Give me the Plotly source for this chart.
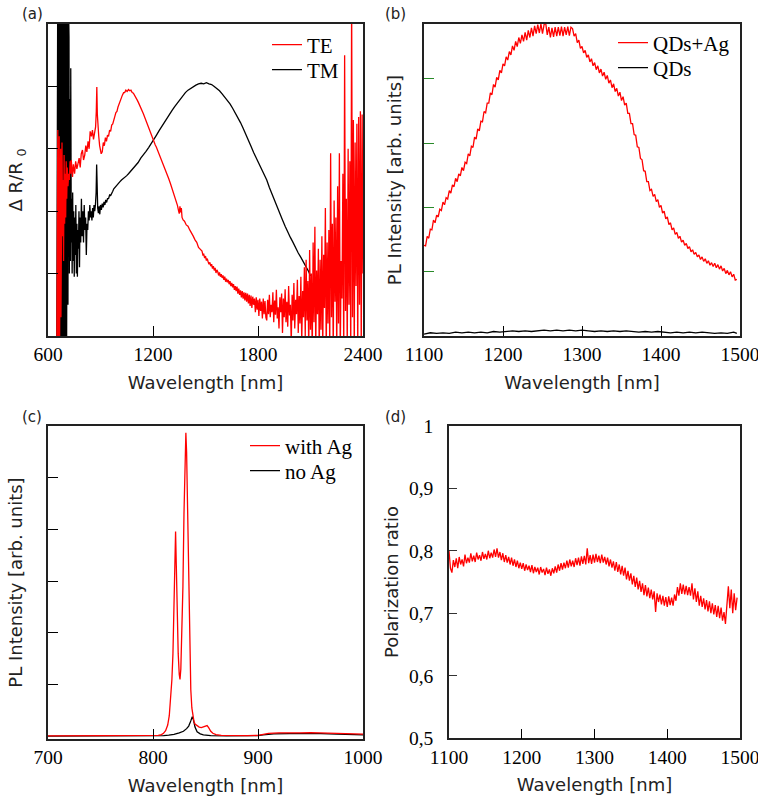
import plotly.graph_objects as go

# ---------------- Panel (a): Delta R / R0 ----------------
te_nm = [650, 652, 654, 656, 658, 660, 662, 664, 666, 668, 670, 672, 674, 676, 678, 680, 683, 686, 689, 692,
         695, 698, 701, 704, 707, 710, 714, 718, 722, 726, 730,
         733, 740, 745, 752, 758, 765, 771, 778, 784, 790, 797, 803, 810, 816, 822, 829, 835, 841, 848, 854,
         860, 867, 872, 876, 879, 882, 886, 890, 895, 899, 904, 910, 916, 922, 928, 934, 940, 946, 952, 958,
         964, 970, 976, 982, 988, 994, 1000, 1006, 1012, 1019, 1025, 1032, 1038, 1045, 1052, 1060, 1067, 1074,
         1081, 1088, 1095, 1102, 1110, 1117, 1124, 1131, 1138, 1145, 1152, 1160, 1167, 1174, 1181, 1188, 1195,
         1200, 1207, 1213, 1219, 1226, 1233,
         1240, 1250, 1260, 1270, 1280, 1290, 1300, 1310, 1320, 1330, 1340, 1345, 1350, 1354, 1358, 1362, 1366,
         1372, 1380, 1390, 1400, 1410, 1420, 1430, 1440, 1450, 1460, 1470,
         1480, 1485, 1490, 1495, 1500, 1505, 1510, 1515, 1520, 1525, 1530, 1535, 1540, 1545, 1550, 1555, 1560,
         1565, 1570, 1575, 1580, 1585, 1590, 1595, 1600, 1605, 1610, 1615, 1620, 1625, 1630, 1635, 1640, 1645,
         1650, 1655, 1660, 1665, 1670, 1675, 1680, 1685, 1690, 1695, 1700, 1705, 1710, 1715, 1720, 1725, 1730,
         1735, 1740, 1745, 1750, 1755, 1760, 1765, 1770, 1775, 1780, 1785, 1790, 1795, 1800, 1805, 1810, 1815,
         1820, 1825, 1830, 1835, 1840, 1845,
         1850, 1855, 1860, 1865, 1870, 1875, 1880, 1885, 1890, 1895, 1900, 1905, 1910, 1915, 1920, 1925, 1930,
         1935, 1940, 1945, 1950, 1955, 1960, 1965, 1970, 1975, 1980, 1985, 1990, 1995, 2000, 2005, 2010, 2015,
         2020, 2025, 2030, 2035, 2040, 2045, 2050, 2055, 2060, 2065, 2070, 2075, 2080, 2085, 2090, 2095, 2100,
         2105, 2110, 2115, 2120, 2125, 2130, 2135, 2140, 2145, 2150, 2155, 2160, 2165, 2170, 2175, 2180, 2185,
         2190, 2195, 2200, 2205, 2210, 2215, 2220, 2225, 2230, 2235, 2240, 2245, 2250, 2255, 2260, 2265, 2270,
         2275, 2280, 2285, 2290, 2295, 2300, 2305, 2310, 2315, 2320, 2325, 2330, 2335, 2340, 2345, 2350, 2355,
         2360, 2365, 2370, 2375, 2380, 2385, 2390, 2395, 2400]
te_val = [-0.5, 2.9, 0.2, 3.3, -0.5, 2.6, 0.8, 3.2, -0.3, 2.4, 1.0, 3.0, 0.3, 2.7, 1.3, 3.1, 1.6, 2.5, 1.2, 2.9,
          1.8, 2.6, 1.9, 2.8, 2.2, 2.7, 2.4, 2.6, 2.5, 2.8, 2.6,
          2.82, 2.55, 2.75, 2.6, 2.8, 2.68, 2.78, 2.85, 2.7, 2.92, 2.98, 2.82, 2.9, 3.05, 2.95, 3.12, 3.0, 3.28, 3.2, 3.3,
          3.15, 3.25, 3.35, 3.6, 3.99, 3.55, 3.3, 3.2, 3.05, 3.0, 2.92, 2.95, 3.1, 3.05, 3.18, 3.12, 3.22, 3.2, 3.3, 3.28,
          3.38, 3.4, 3.48, 3.52, 3.58, 3.6, 3.67, 3.72, 3.76, 3.83, 3.86, 3.9, 3.9, 3.94, 3.92, 3.95, 3.93, 3.94,
          3.9, 3.89, 3.86, 3.82, 3.78, 3.74, 3.7, 3.65, 3.61, 3.56, 3.51, 3.45, 3.38, 3.33, 3.27, 3.22, 3.17,
          3.14, 3.1, 3.06, 3.03, 2.98, 2.93,
          2.88, 2.82, 2.76, 2.67, 2.62, 2.52, 2.44, 2.36, 2.27, 2.2, 2.09, 2.02, 1.96, 2.08, 1.98, 2.05, 1.9,
          1.86, 1.84, 1.78, 1.76, 1.7, 1.66, 1.6, 1.54, 1.5, 1.42, 1.38,
          1.36, 1.30, 1.31, 1.25, 1.28, 1.21, 1.24, 1.19, 1.15, 1.18, 1.12, 1.15, 1.08, 1.12, 1.05, 1.09, 1.01,
          1.06, 1.03, 0.97, 1.02, 0.95, 0.99, 0.93, 0.97, 0.9, 0.95, 0.87, 0.92, 0.86, 0.9, 0.83, 0.88, 0.8,
          0.85, 0.78, 0.83, 0.74, 0.8, 0.72, 0.79, 0.68, 0.76, 0.66, 0.73, 0.62, 0.72, 0.6, 0.7, 0.57, 0.69,
          0.55, 0.68, 0.52, 0.66, 0.48, 0.65, 0.45, 0.63, 0.5, 0.6, 0.38, 0.62, 0.42, 0.58, 0.32, 0.6, 0.4,
          0.55, 0.28, 0.6, 0.35, 0.56, 0.3,
          0.25, 0.58, 0.35, 0.66, 0.3, 0.5, 0.38, 0.7, 0.22, 0.57, 0.34, 0.74, 0.28, 0.46, 0.12, 0.62, 0.38,
          0.68, 0.05, 0.6, 0.3, 0.75, 0.22, 0.55, 0.15, 0.8, 0.33, 0.5, -0.1, 0.66, 0.25, 0.85, 0.12, 0.58,
          0.35, 0.9, 0.05, 0.64, 0.2, 0.95, -0.1, 0.72, 0.3, 1.1, 0.0, 1.22, 0.25, 0.88, -0.2, 1.38, 0.1,
          1.0, -0.3, 1.5, 0.22, 1.75, -0.2, 1.05, 0.35, 1.4, -0.3, 1.22, 0.1, 1.6, -0.2, 1.3, 0.45, 2.05,
          -0.3, 1.5, 0.2, 1.7, -0.2, 2.93, 0.3, 1.8, -0.3, 2.17, 0.55, 1.9, -0.3, 2.4, 0.2, 2.93, -0.3,
          1.2, 0.6, 2.6, -0.3, 4.5, 0.4, 2.2, -0.3, 3.0, 0.5, 2.8, -0.3, 5.5, 0.3, 3.46, -0.3, 3.1,
          0.8, 3.4, -0.3, 3.51, 0.5, 3.6, -0.3, 3.55, 1.0]

tm_nm = [650, 652, 654, 656, 658, 660, 662, 664, 666, 668, 670, 672, 674, 676, 678, 680, 682, 684, 686, 688,
         690, 692, 694, 696, 698, 700, 702, 704, 706, 708, 710, 712, 714, 716, 718, 720, 722, 725, 728, 730, 733,
         735, 738, 741, 744, 747, 750, 753, 756, 759, 762, 765, 768, 771, 774, 777, 780, 783, 787, 791, 795,
         799, 803, 807, 811, 815, 819, 823, 827, 831, 835, 839, 843, 847, 851, 855, 859, 863, 867, 871, 875,
         878, 881, 884, 888, 892, 896, 900, 905, 910, 915, 920, 925, 930, 935, 940, 946, 952, 958, 964, 970,
         976, 982, 990, 1000, 1010, 1020, 1030, 1040, 1050, 1060, 1070, 1080, 1090, 1100, 1115, 1130, 1145,
         1160, 1175, 1190, 1205, 1220, 1235, 1250, 1265, 1280, 1295, 1310, 1325, 1340, 1355, 1370, 1385, 1400,
         1415, 1430, 1445, 1460, 1475, 1490, 1505, 1520, 1535, 1550, 1565, 1580, 1595, 1610, 1625, 1640, 1655,
         1670, 1685, 1700, 1715, 1730, 1745, 1760, 1775, 1790, 1805, 1820, 1835, 1850, 1865, 1880, 1895, 1910,
         1925, 1940, 1955, 1970, 1985, 2000, 2015, 2030, 2045, 2060, 2075, 2090, 2100]
tm_val = [-0.5, 6, -0.5, 6, -0.5, 6, -0.5, 6, -0.5, 6, -0.5, 6, -0.5, 6, -0.5, 6, -0.5, 6, -0.5, 6,
          -0.5, 6, -0.5, 6, -0.5, 6, -0.5, 6, -0.5, 6, -0.5, 6, 0.5, 5.5, 0.8, 4.8, 1.0, 3.8, 1.2, 4.29, 1.5,
          2.2, 1.0, 2.3, 1.2, 2.0, 0.95, 1.9, 1.3, 2.1, 1.0, 1.8, 0.95, 1.7, 1.4, 2.0, 1.1, 1.9, 1.5, 2.2, 1.6,
          2.0, 1.5, 2.1, 1.7, 1.9, 1.3, 1.8, 1.7, 2.0, 1.85, 2.1, 1.9, 2.0, 1.85, 2.05, 1.9, 2.1, 2.0, 2.1, 2.3,
          2.75, 2.2, 2.05, 1.97, 2.08, 1.95, 2.1, 2.02, 2.12, 2.06, 2.15, 2.1, 2.18, 2.14, 2.2, 2.2, 2.26, 2.25, 2.3, 2.32,
          2.36, 2.38, 2.42, 2.45, 2.47, 2.5, 2.52, 2.55, 2.57, 2.6, 2.63, 2.66, 2.69, 2.72, 2.78, 2.85, 2.9,
          2.96, 3.02, 3.08, 3.14, 3.22, 3.29, 3.36, 3.43, 3.5, 3.56, 3.62, 3.68, 3.74, 3.8, 3.85, 3.9, 3.94,
          3.97, 4.0, 4.02, 4.04, 4.05, 4.04, 4.06, 4.04, 4.03, 4.0, 3.97, 3.93, 3.88, 3.83, 3.78, 3.72, 3.65,
          3.58, 3.5, 3.42, 3.33, 3.24, 3.14, 3.04, 2.94, 2.85, 2.75, 2.66, 2.58, 2.5, 2.38, 2.27, 2.16, 2.05,
          1.95, 1.86, 1.76, 1.66, 1.58, 1.5, 1.41, 1.33, 1.26, 1.19, 1.12, 1.03, 0.96]

# ---------------- Panel (b): PL, QDs with / without Ag ----------------
b_nm = [1100, 1102, 1104, 1106, 1108, 1110, 1112, 1114, 1116, 1118, 1120, 1122, 1124, 1126, 1128, 1130, 1132,
        1134, 1136, 1138, 1140, 1142, 1144, 1146, 1148, 1150, 1152, 1154, 1156, 1158, 1160, 1162, 1164, 1166,
        1168, 1170, 1172, 1174, 1176, 1178, 1180, 1182, 1184, 1186, 1188, 1190, 1192, 1194, 1196, 1198, 1200,
        1202, 1204, 1206, 1208, 1210, 1212, 1214, 1216, 1218, 1220, 1222, 1224, 1226, 1228, 1230, 1232, 1234,
        1236, 1238, 1240, 1242, 1244, 1246, 1248, 1250, 1252, 1254, 1256, 1258, 1260, 1262, 1264, 1266, 1268,
        1270, 1272, 1274, 1276, 1278, 1280, 1282, 1284, 1286, 1288, 1290, 1292, 1294, 1296, 1298, 1300, 1302,
        1304, 1306, 1308, 1310, 1312, 1314, 1316, 1318, 1320, 1322, 1324, 1326, 1328, 1330, 1332, 1334, 1336,
        1338, 1340, 1342, 1344, 1346, 1348, 1350, 1352, 1354, 1356, 1358, 1360, 1362, 1364, 1366, 1368, 1370,
        1372, 1374, 1376, 1378, 1380, 1382, 1384, 1386, 1388, 1390, 1392, 1394, 1396, 1398, 1400, 1402, 1404,
        1406, 1408, 1410, 1412, 1414, 1416, 1418, 1420, 1422, 1424, 1426, 1428, 1430, 1432, 1434, 1436, 1438,
        1440, 1442, 1444, 1446, 1448, 1450, 1452, 1454, 1456, 1458, 1460, 1462, 1464, 1466, 1468, 1470, 1472,
        1474, 1476, 1478, 1480, 1482, 1484, 1486, 1488, 1490, 1492, 1494, 1496]
qds_ag = [1.41, 1.40, 1.55, 1.52, 1.66, 1.65, 1.80, 1.76, 1.88, 1.85, 1.97, 1.95, 2.08, 2.04, 2.15, 2.13, 2.26,
          2.22, 2.35, 2.32, 2.45, 2.40, 2.52, 2.49, 2.62, 2.57, 2.70, 2.68, 2.83, 2.80, 2.95, 2.93, 3.09, 3.06,
          3.22, 3.19, 3.34, 3.33, 3.49, 3.47, 3.62, 3.62, 3.78, 3.75, 3.91, 3.87, 4.02, 3.98, 4.13, 4.09, 4.23,
          4.20, 4.34, 4.29, 4.42, 4.37, 4.51, 4.44, 4.58, 4.50, 4.64, 4.55, 4.68, 4.58, 4.72, 4.60, 4.75, 4.64,
          4.79, 4.66, 4.82, 4.70, 4.84, 4.71, 4.85, 4.70, 4.84, 4.87, 4.68, 4.80, 4.64, 4.79, 4.65, 4.80, 4.66,
          4.80, 4.67, 4.81, 4.66, 4.80, 4.68, 4.81, 4.67, 4.80, 4.78, 4.66, 4.70, 4.56, 4.60, 4.47, 4.50, 4.40,
          4.44, 4.33, 4.37, 4.26, 4.31, 4.20, 4.25, 4.14, 4.20, 4.09, 4.15, 4.04, 4.10, 3.99, 4.05, 3.93, 3.98,
          3.86, 3.92, 3.80, 3.85, 3.73, 3.79, 3.66, 3.72, 3.59, 3.62, 3.46, 3.46, 3.30, 3.30, 3.13, 3.12, 2.94,
          2.93, 2.76, 2.74, 2.57, 2.56, 2.40, 2.40, 2.26, 2.28, 2.17, 2.20, 2.09, 2.12, 2.00, 2.03, 1.91, 1.94,
          1.82, 1.85, 1.73, 1.76, 1.65, 1.68, 1.58, 1.61, 1.52, 1.55, 1.46, 1.49, 1.41, 1.44, 1.36, 1.39, 1.31,
          1.34, 1.27, 1.30, 1.23, 1.26, 1.19, 1.23, 1.16, 1.20, 1.13, 1.17, 1.10, 1.14, 1.08, 1.13, 1.06, 1.11,
          1.04, 1.09, 1.01, 1.05, 0.97, 1.02, 0.95, 1.00, 0.92, 0.96, 0.87, 0.88]
qds_nm = [1100, 1108, 1116, 1124, 1132, 1140, 1148, 1156, 1164, 1172, 1180, 1188, 1196, 1204, 1212, 1220, 1228,
          1236, 1244, 1252, 1260, 1268, 1276, 1284, 1292, 1300, 1308, 1316, 1324, 1332, 1340, 1348, 1356, 1364,
          1372, 1380, 1388, 1396, 1404, 1412, 1420, 1428, 1436, 1444, 1452, 1460, 1468, 1476, 1484, 1492, 1496]
qds = [0.03, 0.05, 0.04, 0.05, 0.04, 0.06, 0.05, 0.06, 0.05, 0.06, 0.05, 0.07, 0.06, 0.07, 0.08, 0.07, 0.08,
       0.07, 0.08, 0.09, 0.08, 0.09, 0.08, 0.09, 0.08, 0.09, 0.08, 0.07, 0.08, 0.07, 0.08, 0.07, 0.08, 0.07,
       0.06, 0.07, 0.06, 0.07, 0.06, 0.05, 0.06, 0.05, 0.06, 0.05, 0.06, 0.05, 0.04, 0.05, 0.04, 0.06, 0.04]

# ---------------- Panel (c): PL with / without Ag ----------------
c_ag_nm = [700, 720, 740, 760, 780, 800, 805, 808, 810, 812, 814, 815.5, 817, 818, 819, 820, 820.8, 821.5,
           822.2, 823, 824, 825, 825.7, 826.5, 827.5, 828.5, 829.5, 830.5, 831.3, 832, 833, 834, 835, 836, 837,
           838, 839, 840, 842, 844, 846, 848, 850, 851.5, 853, 855, 857, 860, 865, 875, 890, 900, 905, 910, 920,
           930, 940, 950, 960, 970, 980, 990, 1000]
c_ag = [0.01, 0.01, 0.01, 0.012, 0.012, 0.015, 0.02, 0.035, 0.06, 0.11, 0.22, 0.4, 0.75, 1.1, 1.6, 2.4, 3.3, 3.96,
        3.3, 2.3, 1.6, 1.2, 1.1, 1.3, 1.9, 2.9, 4.3, 5.6, 5.87, 5.5, 4.3, 2.8, 1.6, 0.9, 0.55,
        0.38, 0.29, 0.24, 0.2, 0.18, 0.17, 0.18, 0.2, 0.21, 0.17, 0.1, 0.06, 0.035, 0.02, 0.015, 0.015, 0.02, 0.04,
        0.06, 0.07, 0.065, 0.07, 0.075, 0.07, 0.06, 0.06, 0.05, 0.045]
c_noag_nm = [700, 750, 800, 810, 815, 820, 825, 829, 832, 834, 836, 837.4, 838.5, 840, 842, 845, 848, 855, 870,
             895, 900, 905, 915, 930, 945, 960, 975, 990, 1000]
c_noag = [0.005, 0.005, 0.01, 0.015, 0.025, 0.04, 0.07, 0.1, 0.15, 0.2, 0.3, 0.38, 0.32, 0.18, 0.09, 0.05, 0.03,
          0.015, 0.01, 0.01, 0.015, 0.03, 0.05, 0.055, 0.06, 0.055, 0.045, 0.035, 0.03]

# ---------------- Panel (d): polarization ratio ----------------
d_nm = [1100, 1102, 1104, 1106, 1108, 1110, 1112, 1114, 1116, 1118, 1120, 1122, 1124, 1126, 1128, 1130, 1132,
        1134, 1136, 1138, 1140, 1142, 1144, 1146, 1148, 1150, 1152, 1154, 1156, 1158, 1160, 1162, 1164, 1166,
        1168, 1170, 1172, 1174, 1176, 1178, 1180, 1182, 1184, 1186, 1188, 1190, 1192, 1194, 1196, 1198, 1200,
        1202, 1204, 1206, 1208, 1210, 1212, 1214, 1216, 1218, 1220, 1222, 1224, 1226, 1228, 1230, 1232, 1234,
        1236, 1238, 1240, 1242, 1244, 1246, 1248, 1250, 1252, 1254, 1256, 1258, 1260, 1262, 1264, 1266, 1268,
        1270, 1272, 1274, 1276, 1278, 1280, 1282, 1284, 1286, 1288, 1290, 1292, 1294, 1296, 1298, 1300, 1302,
        1304, 1306, 1308, 1310, 1312, 1314, 1316, 1318, 1320, 1322, 1324, 1326, 1328, 1330, 1332, 1334, 1336,
        1338, 1340, 1342, 1344, 1346, 1348, 1350, 1352, 1354, 1356, 1358, 1360, 1362, 1364, 1366, 1368, 1370,
        1372, 1374, 1376, 1378, 1380, 1382, 1384, 1386, 1388, 1390, 1392, 1394, 1396, 1398, 1400, 1402, 1404,
        1406, 1408, 1410, 1412, 1414, 1416, 1418, 1420, 1422, 1424, 1426, 1428, 1430, 1432, 1434, 1436, 1438,
        1440, 1442, 1444, 1446, 1448, 1450, 1452, 1454, 1456, 1458, 1460, 1462, 1464, 1466, 1468, 1470, 1472,
        1474, 1476, 1478, 1480, 1482, 1484, 1486, 1488, 1490, 1492, 1494, 1496]
pol_ratio = [0.800, 0.772, 0.765, 0.785, 0.774, 0.788, 0.772, 0.790, 0.778, 0.786, 0.775, 0.794, 0.780, 0.789,
             0.781, 0.796, 0.783, 0.792, 0.782, 0.797, 0.786, 0.793, 0.784, 0.798, 0.787, 0.795, 0.786, 0.800,
             0.788, 0.797, 0.789, 0.802, 0.790, 0.804, 0.789, 0.798, 0.785, 0.796, 0.782, 0.793, 0.781, 0.790,
             0.778, 0.789, 0.776, 0.786, 0.774, 0.784, 0.772, 0.781, 0.771, 0.780, 0.768, 0.778, 0.769, 0.776,
             0.766, 0.777, 0.764, 0.774, 0.766, 0.773, 0.762, 0.774, 0.765, 0.771, 0.761, 0.773, 0.763, 0.770,
             0.760, 0.772, 0.764, 0.775, 0.765, 0.778, 0.768, 0.780, 0.770, 0.781, 0.772, 0.784, 0.773, 0.786,
             0.775, 0.784, 0.774, 0.788, 0.777, 0.789, 0.776, 0.791, 0.779, 0.792, 0.778, 0.804, 0.780, 0.793,
             0.779, 0.794, 0.781, 0.795, 0.782, 0.792, 0.780, 0.794, 0.781, 0.790, 0.778, 0.789, 0.775, 0.786,
             0.773, 0.783, 0.768, 0.782, 0.766, 0.778, 0.762, 0.776, 0.760, 0.773, 0.754, 0.768, 0.752, 0.764,
             0.746, 0.760, 0.742, 0.757, 0.738, 0.752, 0.734, 0.748, 0.729, 0.745, 0.727, 0.741, 0.724, 0.738,
             0.722, 0.735, 0.702, 0.732, 0.718, 0.730, 0.714, 0.728, 0.712, 0.726, 0.710, 0.727, 0.713, 0.725,
             0.712, 0.730, 0.720, 0.742, 0.728, 0.748, 0.731, 0.746, 0.730, 0.744, 0.729, 0.742, 0.728, 0.748,
             0.722, 0.740, 0.718, 0.735, 0.712, 0.728, 0.710, 0.724, 0.706, 0.721, 0.703, 0.719, 0.700, 0.716,
             0.698, 0.713, 0.694, 0.712, 0.692, 0.709, 0.688, 0.702, 0.683, 0.715, 0.743, 0.708, 0.738, 0.700,
             0.732, 0.705, 0.725]
pol_ticks = [0.5, 0.6, 0.7, 0.8, 0.9, 1.0]
pol_ticktext = ["0,5", "0,6", "0,7", "0,8", "0,9", "1"]

RED = "#ff0000"
BLACK = "#000000"
SERIF = "Liberation Serif"
SANS = "DejaVu Sans"
LW = 1.3

fig = go.Figure()
fig.add_trace(go.Scatter(x=tm_nm, y=tm_val, mode="lines", name="TM", line=dict(color=BLACK, width=LW),
                         xaxis="x", yaxis="y", legend="legend2"))
fig.add_trace(go.Scatter(x=te_nm, y=te_val, mode="lines", name="TE", line=dict(color=RED, width=LW),
                         xaxis="x", yaxis="y", legend="legend"))
fig.add_trace(go.Scatter(x=b_nm, y=qds_ag, mode="lines", name="QDs+Ag", line=dict(color=RED, width=LW),
                         xaxis="x2", yaxis="y2", legend="legend3"))
fig.add_trace(go.Scatter(x=qds_nm, y=qds, mode="lines", name="QDs", line=dict(color=BLACK, width=LW),
                         xaxis="x2", yaxis="y2", legend="legend4"))
fig.add_trace(go.Scatter(x=c_noag_nm, y=c_noag, mode="lines", name="no Ag", line=dict(color=BLACK, width=LW),
                         xaxis="x3", yaxis="y3", legend="legend6"))
fig.add_trace(go.Scatter(x=c_ag_nm, y=c_ag, mode="lines", name="with Ag", line=dict(color=RED, width=LW),
                         xaxis="x3", yaxis="y3", legend="legend5"))
fig.add_trace(go.Scatter(x=d_nm, y=pol_ratio, mode="lines", name="Polarization ratio",
                         line=dict(color=RED, width=LW), xaxis="x4", yaxis="y4", showlegend=False))

W, H = 758, 800


def px(v):
    return v / W


def py(v):
    return 1 - v / H


tickfont = dict(family=SERIF, size=19.5, color="black")
titlefont = dict(family=SANS, size=18, color="#222222")


def xax(domain, rng, tickvals, anchor):
    return dict(domain=domain, range=rng, tickvals=tickvals, ticks="inside", ticklen=10, tickwidth=1.2,
                tickcolor="black", showline=True, linecolor="#222222", linewidth=1.6, mirror=True,
                showgrid=False, zeroline=False, tickfont=tickfont, anchor=anchor, automargin=False,
                ticklabeloverflow="allow",
                title=dict(text="Wavelength [nm]", font=titlefont, standoff=12), ticklabelstandoff=0)


def yax(domain, rng, tickvals, anchor, title, tickcolor="black", labels=False, ticktext=None, ticklen=10,
        standoff=19, labelstandoff=0):
    d = dict(domain=domain, range=rng, tickvals=tickvals, ticks="inside", ticklen=ticklen, tickwidth=1.2,
             tickcolor=tickcolor, showline=True, linecolor="#222222", linewidth=1.6, mirror=True,
             showgrid=False, zeroline=False, showticklabels=labels, tickfont=tickfont, anchor=anchor,
             automargin=False, ticklabeloverflow="allow",
             title=dict(text=title, font=titlefont, standoff=standoff),
             ticklabelstandoff=labelstandoff)
    if ticktext is not None:
        d["ticktext"] = ticktext
    return d


legfont = dict(family=SERIF, size=21, color="black")


def leg(xtext, ycenter):
    return dict(x=px(xtext - 43), y=py(ycenter), xanchor="left", yanchor="middle", font=legfont,
                bgcolor="rgba(0,0,0,0)", borderwidth=0)


fig.update_layout(
    template="none",
    width=W, height=H, autosize=False,
    margin=dict(l=0, r=0, t=0, b=0, autoexpand=False),
    paper_bgcolor="white", plot_bgcolor="white",
    xaxis=xax([px(48), px(363)], [600, 2400], [600, 1200, 1800, 2400], "y"),
    yaxis=yax([py(336), py(24)], [0, 5], [1, 2, 3, 4], "x", "Δ R/R <sub>0</sub>"),
    xaxis2=xax([px(424), px(740)], [1100, 1500], [1100, 1200, 1300, 1400, 1500], "y2"),
    yaxis2=yax([py(336), py(24)], [0, 4.85], [0, 1, 2, 3, 4], "x2", "PL Intensity [arb. units]",
               tickcolor="#2a8a2a", standoff=16),
    xaxis3=xax([px(48), px(363)], [700, 1000], [700, 800, 900, 1000], "y3"),
    yaxis3=yax([py(739), py(426)], [-0.05, 6.0], [1, 2, 3, 4, 5], "x3", "PL Intensity [arb. units]"),
    xaxis4=xax([px(449), px(740)], [1100, 1500], [1100, 1200, 1300, 1400, 1500], "y4"),
    yaxis4=yax([py(738.3), py(425.7)], [0.5, 1.0], pol_ticks, "x4", "Polarization ratio",
               tickcolor="#333333", labels=True, ticktext=pol_ticktext, ticklen=8, standoff=6,
               labelstandoff=10),
    legend=leg(310, 45),
    legend2=leg(310, 70),
    legend3=leg(656, 43),
    legend4=leg(656, 68),
    legend5=leg(288, 446),
    legend6=leg(288, 471),
    annotations=[
        dict(text="(a)", x=px(20), y=py(3), xref="paper", yref="paper", xanchor="left", yanchor="top",
             showarrow=False, font=dict(family=SANS, size=15, color="#222222")),
        dict(text="(b)", x=px(383), y=py(3), xref="paper", yref="paper", xanchor="left", yanchor="top",
             showarrow=False, font=dict(family=SANS, size=15, color="#222222")),
        dict(text="(c)", x=px(20), y=py(406), xref="paper", yref="paper", xanchor="left", yanchor="top",
             showarrow=False, font=dict(family=SANS, size=15, color="#222222")),
        dict(text="(d)", x=px(383), y=py(406), xref="paper", yref="paper", xanchor="left", yanchor="top",
             showarrow=False, font=dict(family=SANS, size=15, color="#222222")),
    ],
)

fig.write_html("out.html", config={"displayModeBar": False},
               post_script="document.body.style.margin='0px';")
